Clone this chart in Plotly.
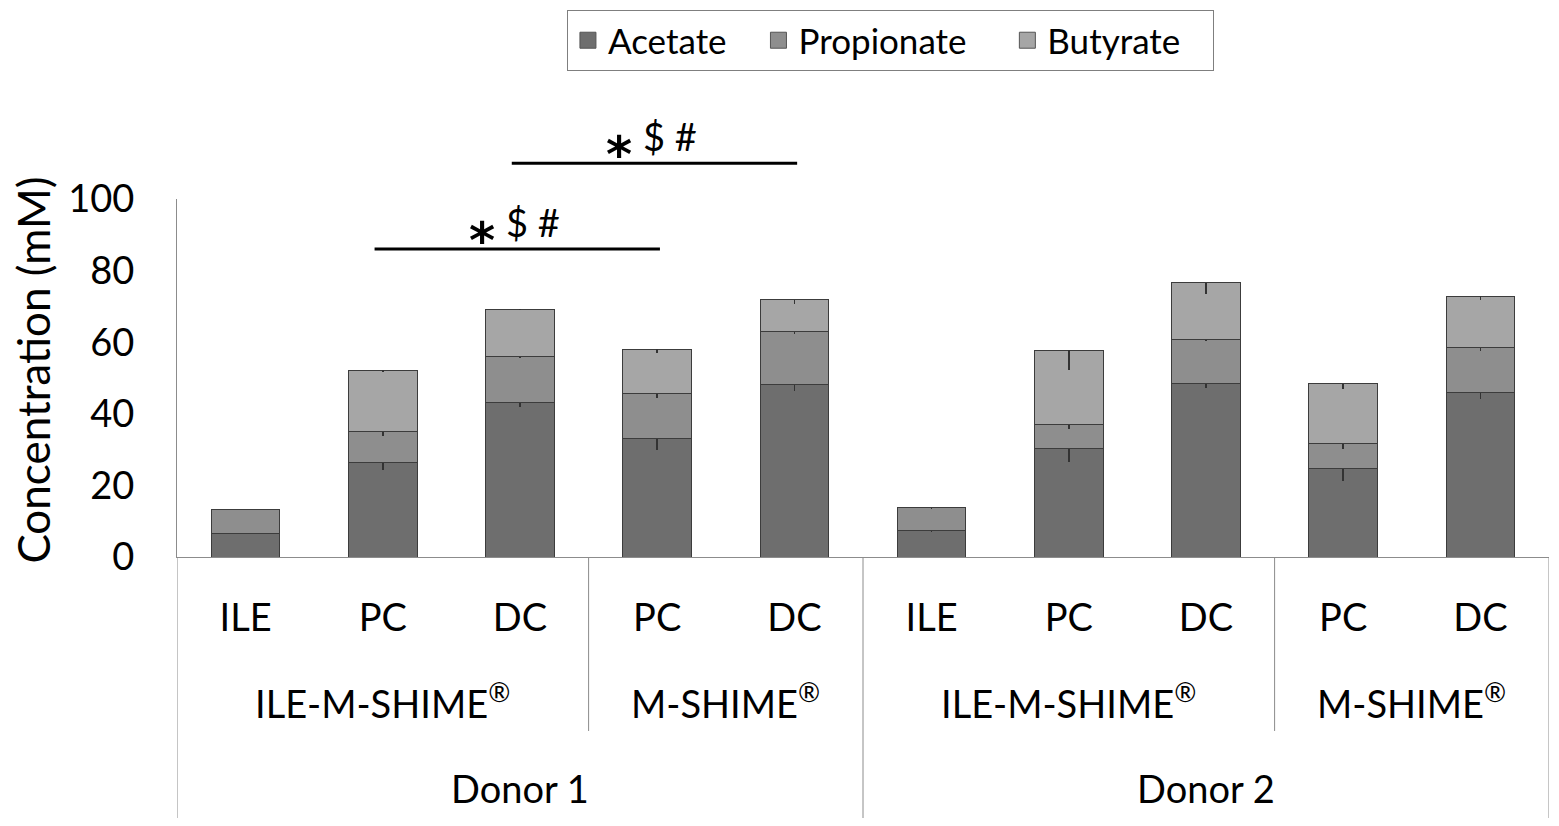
import plotly.graph_objects as go

# stacked SCFA concentrations (mM) per compartment
regions = ["ILE", "PC", "DC", "PC", "DC", "ILE", "PC", "DC", "PC", "DC"]
acetate = [6.6, 26.3, 43.2, 33.2, 48.2, 7.4, 30.4, 48.5, 24.8, 46.0]
propionate = [6.8, 8.8, 12.7, 12.6, 14.7, 6.3, 6.7, 12.3, 7.0, 12.6]
butyrate = [0.0, 17.0, 13.3, 12.3, 8.9, 0.0, 20.6, 15.8, 16.6, 14.3]
acetate_err = [0.3, 2.0, 1.2, 3.2, 1.8, 0.5, 4.0, 1.3, 3.5, 1.9]
propionate_err = [0.3, 1.3, 0.3, 1.3, 0.5, 0.4, 1.4, 0.4, 1.5, 1.0]
butyrate_err = [0.0, 0.3, 0.3, 1.0, 1.2, 0.0, 5.4, 3.2, 1.4, 1.1]

# second and third label rows: (label, first index, last index)
systems = [("ILE-M-SHIME<sup>®</sup>", 0, 2), ("M-SHIME<sup>®</sup>", 3, 4),
           ("ILE-M-SHIME<sup>®</sup>", 5, 7), ("M-SHIME<sup>®</sup>", 8, 9)]
donors = [("Donor 1", 0, 4), ("Donor 2", 5, 9)]

# significance brackets: (from index, to index, level in mM)
sig_pairs = [(1, 3, 86), (2, 4, 110)]
sig_text = "$ #"

FONT = "Lato"
NB = "\u00a0"
x = list(range(len(regions)))
ymax = 100

fig = go.Figure()
series = [
    ("Acetate", acetate, acetate_err, "#6e6e6e", 3),
    ("Propionate", propionate, propionate_err, "#8e8e8e", 4),
    ("Butyrate", butyrate, butyrate_err, "#a6a6a6", 3),
]
for name, vals, errs, col, pad in series:
    fig.add_trace(go.Bar(
        x=x, y=vals, name=name, width=0.5, showlegend=False,
        marker=dict(color=col, line=dict(color="#3c3c3c", width=1)),
        error_y=dict(type="data", symmetric=False, array=[0] * len(vals),
                     arrayminus=errs, color="#333333", thickness=1.5, width=0),
    ))
# legend entries with bigger square keys
for name, vals, errs, col, pad in series:
    fig.add_trace(go.Scatter(
        x=[None], y=[None], mode="markers", name=name + NB * pad,
        marker=dict(symbol="square", size=16, color=col,
                    line=dict(color="#555555", width=1)),
    ))

shapes = []
# divider lines under the axis
for pos, depth in [(-0.5, -0.735), (2.5, -0.486), (4.5, -0.735),
                   (7.5, -0.486), (9.5, -0.735)]:
    shapes.append(dict(type="line", xref="x", yref="paper", x0=pos, x1=pos,
                       y0=0, y1=depth, line=dict(color="#8c8c8c", width=1)))

annotations = []
for label, a, b in systems:
    annotations.append(dict(x=(a + b) / 2, y=-0.477, xref="x", yref="paper",
                            text=label, showarrow=False,
                            font=dict(family=FONT, size=38, color="black")))
for label, a, b in donors:
    annotations.append(dict(x=(a + b) / 2, y=-0.714, xref="x", yref="paper",
                            text=label, showarrow=False,
                            font=dict(family=FONT, size=38, color="black")))

for a, b, lvl in sig_pairs:
    shapes.append(dict(type="line", xref="x", yref="paper", x0=a - 0.06, x1=b + 0.02,
                       y0=lvl / ymax, y1=lvl / ymax, line=dict(color="black", width=3)))
    mid = (a + b) / 2 - 0.03
    annotations.append(dict(x=mid, y=lvl / ymax, xref="x", yref="paper", text=sig_text,
                            showarrow=False, xanchor="center", yanchor="bottom",
                            xshift=17, yshift=2,
                            font=dict(family=FONT, size=38, color="black")))
    annotations.append(dict(x=mid, y=lvl / ymax, xref="x", yref="paper", text="<b>*</b>",
                            showarrow=False, xanchor="center", yanchor="middle",
                            xshift=-34, yshift=8,
                            font=dict(family="DejaVu Sans", size=50, color="black")))

annotations.append(dict(x=-0.125, y=0.522, xref="paper", yref="paper",
                        text="Concentration (mM)", textangle=-90, showarrow=False,
                        font=dict(family=FONT, size=44, color="black")))

fig.update_layout(
    width=1543, height=810,
    margin=dict(l=169, r=2, t=191, b=261),
    barmode="stack",
    plot_bgcolor="white", paper_bgcolor="white",
    font=dict(family=FONT, size=38, color="black"),
    showlegend=True,
    legend=dict(orientation="h", x=0.52, xanchor="center", y=1.528, yanchor="top",
                bordercolor="#7f7f7f", borderwidth=1, font=dict(size=35),
                traceorder="normal"),
    xaxis=dict(tickmode="array", tickvals=x, ticktext=regions, range=[-0.5, 9.5],
               showline=True, linecolor="#8c8c8c", linewidth=1, ticks="",
               showgrid=False, zeroline=False, ticklabelstandoff=27,
               tickfont=dict(family=FONT, size=38)),
    yaxis=dict(range=[0, ymax], tickvals=[0, 20, 40, 60, 80, 100],
               showline=True, linecolor="#8c8c8c", linewidth=1, ticks="",
               showgrid=False, zeroline=False, ticklabelstandoff=34,
               tickfont=dict(family=FONT, size=38)),
    shapes=shapes,
    annotations=annotations,
)

fig.write_html("out.html")
